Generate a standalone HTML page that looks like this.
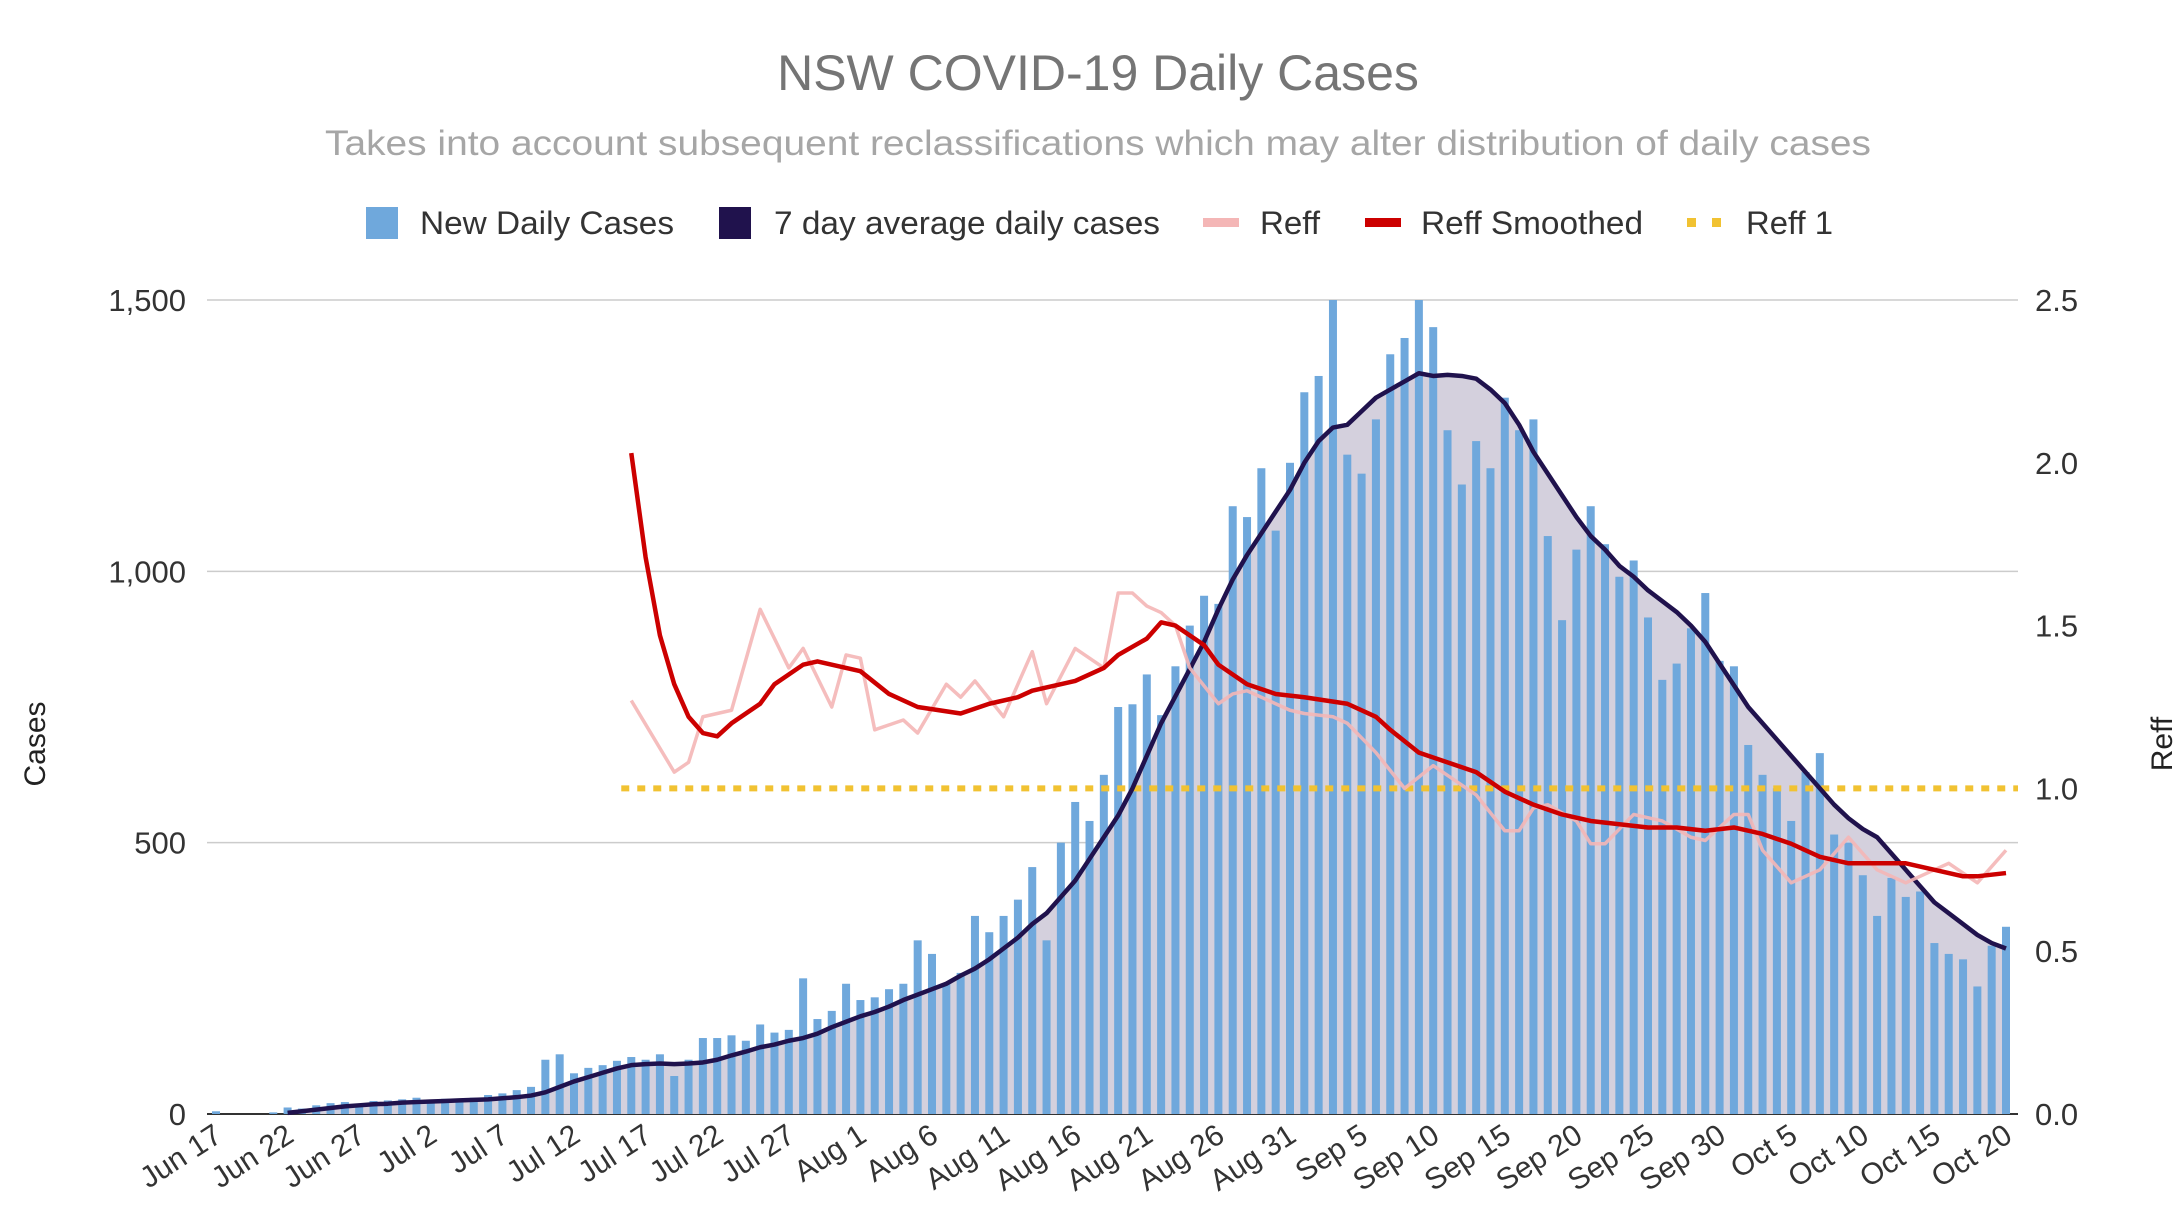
<!DOCTYPE html>
<html><head><meta charset="utf-8"><style>
body{margin:0;background:#fff}
svg text{font-family:"Liberation Sans",sans-serif}
</style></head><body>
<svg id="chart" width="2177" height="1207" viewBox="0 0 2177 1207" xmlns="http://www.w3.org/2000/svg">
<rect width="2177" height="1207" fill="#fff"/>
<text x="1098" y="90" text-anchor="middle" font-size="50" fill="#757575">NSW COVID-19 Daily Cases</text>
<text x="1098" y="155" text-anchor="middle" font-size="35" fill="#a6a6a6" textLength="1546" lengthAdjust="spacingAndGlyphs">Takes into account subsequent reclassifications which may alter distribution of daily cases</text>
<g font-size="32" fill="#333">
 <g><rect x="366" y="207" width="32" height="32" fill="#6fa8dc"/><text x="420" y="234" textLength="254" lengthAdjust="spacingAndGlyphs">New Daily Cases</text></g>
 <g><rect x="719" y="207" width="32" height="32" fill="#20124d"/><text x="774" y="234" textLength="386" lengthAdjust="spacingAndGlyphs">7 day average daily cases</text></g>
 <g><rect x="1203" y="218" width="36" height="9" fill="#f4b6b6"/><text x="1260" y="234" textLength="60" lengthAdjust="spacingAndGlyphs">Reff</text></g>
 <g><rect x="1365" y="218" width="36" height="9" fill="#cc0000"/><text x="1421" y="234" textLength="222" lengthAdjust="spacingAndGlyphs">Reff Smoothed</text></g>
 <g><rect x="1687" y="218" width="9" height="9" fill="#f1c232"/><rect x="1712" y="218" width="9" height="9" fill="#f1c232"/><text x="1746" y="234" textLength="87" lengthAdjust="spacingAndGlyphs">Reff 1</text></g>
</g>
<g id="grid"></g><g id="area"></g><g id="bars"></g><g id="lines"></g><g id="axes"></g>
<text transform="translate(45,744) rotate(-90)" text-anchor="middle" font-size="30" fill="#222">Cases</text>
<text transform="translate(2172,744) rotate(-90)" text-anchor="middle" font-size="30" fill="#222">Reff</text>
</svg>
<script>
const cases=[5,0,0,0,3,12,10,16,20,22,18,24,25,27,30,26,28,22,30,35,38,44,50,100,110,75,85,90,98,105,100,110,70,100,140,140,145,135,165,150,155,250,175,190,240,210,215,230,240,320,295,240,260,365,335,365,395,455,320,500,575,540,625,750,755,810,735,825,900,955,940,1120,1100,1190,1075,1200,1330,1360,1500,1215,1180,1280,1400,1430,1500,1450,1260,1160,1240,1190,1320,1260,1280,1065,910,1040,1120,1050,990,1020,915,800,830,895,960,835,825,680,625,600,540,630,665,515,500,440,365,435,400,410,315,295,285,235,310,345];
const avgStart=5;
const avg=[2,5,8,11,14,16,18,19,21,22,23,24,25,26,27,29,31,34,40,50,60,68,76,84,90,92,93,92,93,95,100,108,115,123,128,135,140,148,160,170,180,188,198,210,220,230,240,255,268,285,305,325,350,370,400,430,470,510,550,600,660,720,770,820,870,930,985,1030,1070,1110,1150,1200,1240,1265,1270,1295,1320,1335,1350,1365,1360,1362,1360,1355,1335,1310,1270,1220,1180,1140,1100,1065,1040,1010,990,965,945,925,900,870,830,790,750,720,690,660,630,600,570,545,525,510,480,450,420,390,370,350,330,315,305];
const reffDays=[29,32,33,34,36,38,40,41,43,44,45,46,48,49,51,52,53,55,57,58,60,62,63,64,65,66,67,68,70,71,72,75,76,78,79,81,83,85,88,90,91,92,93,95,96,97,99,101,103,104,106,107,108,110,112,114,116,118,119,121,123,125];
const reff=[1.27,1.05,1.08,1.22,1.24,1.55,1.37,1.43,1.25,1.41,1.40,1.18,1.21,1.17,1.32,1.28,1.33,1.22,1.42,1.26,1.43,1.37,1.60,1.60,1.56,1.54,1.50,1.37,1.26,1.29,1.30,1.24,1.23,1.22,1.20,1.11,1.00,1.07,0.98,0.87,0.87,0.94,0.95,0.90,0.83,0.83,0.92,0.90,0.85,0.84,0.92,0.92,0.81,0.71,0.75,0.85,0.75,0.71,0.73,0.77,0.71,0.81];
const smDays=[29,30,31,32,33,34,35,36,38,39,41,42,43,45,47,49,52,54,56,57,60,62,63,65,66,67,69,70,72,74,76,79,81,82,84,86,88,90,92,94,96,98,100,102,104,106,108,110,112,114,116,118,120,122,123,125];
const reffSmoothed=[2.03,1.71,1.47,1.32,1.22,1.17,1.16,1.20,1.26,1.32,1.38,1.39,1.38,1.36,1.29,1.25,1.23,1.26,1.28,1.30,1.33,1.37,1.41,1.46,1.51,1.50,1.44,1.38,1.32,1.29,1.28,1.26,1.22,1.18,1.11,1.08,1.05,0.99,0.95,0.92,0.90,0.89,0.88,0.88,0.87,0.88,0.86,0.83,0.79,0.77,0.77,0.77,0.75,0.73,0.73,0.74];
const leftTicks=["0","500","1,000","1,500"];
const leftTickVals=[0,500,1000,1500];
const rightTicks=["0.0","0.5","1.0","1.5","2.0","2.5"];
const rightTickVals=[0,0.5,1,1.5,2,2.5];
const xLabels=["Jun 17","Jun 22","Jun 27","Jul 2","Jul 7","Jul 12","Jul 17","Jul 22","Jul 27","Aug 1","Aug 6","Aug 11","Aug 16","Aug 21","Aug 26","Aug 31","Sep 5","Sep 10","Sep 15","Sep 20","Sep 25","Sep 30","Oct 5","Oct 10","Oct 15","Oct 20"];
const reffOneStart=28.3;

const NS="http://www.w3.org/2000/svg";
const X0=216,DX=14.32,Y0=1114,YT=300,PL=207,PR=2018;
const x=i=>X0+i*DX;
const yL=v=>Y0-(v/1500)*(Y0-YT);
const yR=v=>Y0-(v/2.5)*(Y0-YT);
function mk(tag,parent,attrs){const e=document.createElementNS(NS,tag);for(const k in attrs)e.setAttribute(k,attrs[k]);document.getElementById(parent).appendChild(e);return e;}

leftTickVals.forEach((v,k)=>{
 const g=mk('line','grid',{x1:PL,x2:PR,y1:yL(v),y2:yL(v),stroke:v===0?'#333':'#ccc','stroke-width':v===0?2:1.5});
 
 
 const t=mk('text','axes',{x:186,y:yL(v)+11,'text-anchor':'end','font-size':31,fill:'#333'});t.textContent=leftTicks[k];
 
 
});
rightTickVals.forEach((v,k)=>{
 const t=mk('text','axes',{x:2035,y:yR(v)+11,'font-size':31,fill:'#333'});t.textContent=rightTicks[k];
 
 
});
xLabels.forEach((s,k)=>{
 const i=k*5;
 const t=mk('text','axes',{transform:`translate(${x(i)+8},${Y0+26}) rotate(-33)`,'text-anchor':'end','font-size':30,fill:'#333'});t.textContent=s;
 
 
});
let d=`M${x(avgStart)},${Y0}`;avg.forEach((v,k)=>d+=` L${x(avgStart+k)},${yL(v)}`);d+=` L${x(avgStart+avg.length-1)},${Y0}Z`;
const ar=mk('path','area',{d:d,fill:'#d4d0dd'});


cases.forEach((v,i)=>{
 const vv=Math.min(v,1500);
 const b=mk('rect','bars',{x:x(i)-4,y:yL(vv),width:8,height:Y0-yL(vv),fill:'#6fa8dc'});
 
 
});
function line(days,vals,fy,attrs,name){
 const p=mk('polyline','lines',Object.assign({points:days.map((dd,k)=>x(dd)+','+fy(vals[k])).join(' '),fill:'none','stroke-linejoin':'round'},attrs));
 
 
}
const rl=mk('line','lines',{x1:x(reffOneStart),x2:PR,y1:yR(1),y2:yR(1),stroke:'#f1c232','stroke-width':6,'stroke-dasharray':'8 8'});


line(avg.map((_,k)=>avgStart+k),avg,yL,{stroke:'#20124d','stroke-width':4.5},'average-line');
line(reffDays,reff,yR,{stroke:'#f4b6b6','stroke-width':3.5,opacity:0.9},'reff-line');
line(smDays,reffSmoothed,yR,{stroke:'#cc0000','stroke-width':4.5},'reff-smoothed-line');
</script>
</body></html>
